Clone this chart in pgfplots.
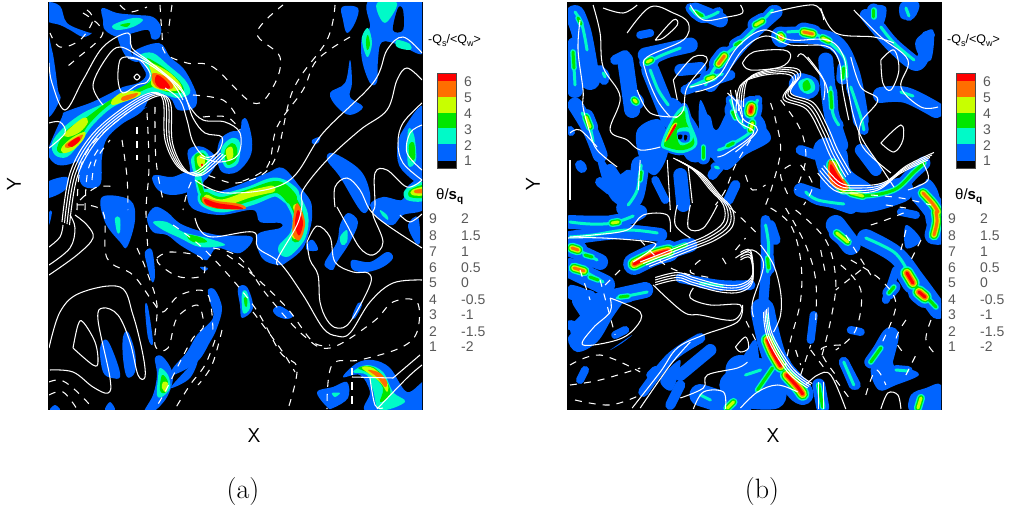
\documentclass[border=0pt]{standalone}
\usepackage{fontspec}
\usepackage{pgfplots}
\pgfplotsset{compat=1.18}
\newfontfamily\lgfont{Liberation Sans}
\definecolor{qb}{RGB}{0,100,255}
\definecolor{qc}{RGB}{0,250,200}
\definecolor{qg}{RGB}{0,230,0}
\definecolor{qy}{RGB}{200,255,0}
\definecolor{qo}{RGB}{255,110,0}
\definecolor{qr}{RGB}{255,0,0}
\newcommand\bl[2]{\addplot[forget plot,draw=none,fill=#1,smooth cycle,tension=.6] coordinates {#2};}
\newcommand\wl[2][]{\addplot[forget plot,draw=white,line width=1.05pt,smooth,tension=.6,#1] coordinates {#2};}
\newcommand\ds[1]{\addplot[forget plot,draw=white,line width=1.05pt,smooth,tension=.6,dash pattern=on 7pt off 7pt] coordinates {#1};}
\newcommand\bun[3]{\wl{#3}\wl[xshift=#1,yshift=#2]{#3}\wl[xshift=2*#1,yshift=2*#2]{#3}\wl[xshift=3*#1,yshift=3*#2]{#3}}
\newcommand\bw[2]{\addplot[forget plot,draw=qb,line width=#1pt,smooth,tension=.6,line cap=round,line join=round] coordinates {#2};}
\newcommand\cl[3]{\addplot[forget plot,draw=#1,line width=#2pt,smooth,tension=.6,line cap=round,line join=round] coordinates {#3};}
\newcommand\lc[1]{\ifcase#1\or qb\or qc\or qg\or qy\or qo\or qr\fi}
\newcommand\lev[2]{\ifnum#1<\pass\else
  \ifnum\pass=1 \pgfmathsetmacro\wv{3.0*(#1-1)+7}\else\pgfmathsetmacro\wv{2.6*(#1-\pass)+3}\fi
  \edef\tmp{\noexpand\addplot[forget plot,draw=\lc{\pass},line width=\wv pt,smooth,tension=.6,line cap=round,line join=round] coordinates {\unexpanded{#2}};}\tmp\fi}
\pgfplotsset{panel/.style={width=373pt,height=406pt,scale only axis,y dir=reverse,ymin=3,ymax=409,xtick=\empty,ytick=\empty,
  axis background/.style={fill=black},axis line style={line width=1.6pt,black},
  xlabel={\sffamily\fontsize{20}{22}\selectfont X},ylabel={\sffamily\fontsize{20}{22}\selectfont Y},
  every axis x label/.style={at={(axis description cs:0.55,-0.0665)},anchor=center},
  every axis y label/.style={at={(axis description cs:-0.094,0.554)},anchor=center,rotate=90}}}
\newcommand\rstreaks{%
\lev{2}{(575,12) (582,25) (587,50)}
\lev{3}{(578,18) (581,24)}
\lev{3}{(573,52) (574,68)}
\lev{2}{(574,68) (575,85)}
\lev{2}{(582,113) (590,128) (593,142)}
\lev{4}{(586,117) (590,127)}
\lev{4}{(634,100) (636,102)}
\lev{2}{(603,73) (605,77)}
\lev{2}{(646,64) (660,56) (680,48)}
\lev{4}{(647,62) (651,60)}
\lev{2}{(650,70) (658,90) (668,105)}
\lev{2}{(690,8) (702,18) (718,12)}
\lev{3}{(695,12) (702,16)}
\lev{2}{(705,85) (720,60) (745,38) (772,10)}
\lev{5}{(718,64) (724,56)}
\lev{4}{(755,25) (762,21)}
\lev{3}{(735,45) (740,42)}
\lev{2}{(690,87) (710,78) (722,74)}
\lev{4}{(707,79) (713,77)}
\lev{5}{(780,36) (781,38)}
\lev{2}{(787,32) (808,32) (825,40) (843,57) (846,77)}
\lev{5}{(803,32) (812,34)}
\lev{4}{(822,38) (828,41)}
\lev{3}{(843,68) (842,78)}
\lev{2}{(830,87) (832,113) (838,125)}
\lev{3}{(830,92) (831,108)}
\lev{2}{(850,87) (860,117) (863,130)}
\lev{2}{(730,100) (737,117) (745,128)}
\lev{3}{(732,112) (735,118)}
\lev{2}{(757,100) (752,115) (752,130) (730,145) (718,150)}
\lev{6}{(751,107) (750,112)}
\lev{4}{(752,123) (750,130)}
\lev{3}{(733,143) (727,146)}
\lev{3}{(703,147) (703,158)}
\lev{2}{(715,167) (718,168)}
\lev{2}{(641,165) (637,190) (628,205)}
\lev{3}{(641,172) (640,180)}
\lev{6}{(832,165) (836,178) (843,188)}
\lev{3}{(843,190) (860,196) (893,190) (913,172) (923,163)}
\lev{4}{(850,193) (862,196)}
\lev{2}{(805,192) (817,200) (843,204)}
\lev{5}{(922,193) (932,204) (937,212)}
\lev{5}{(935,212) (936,222) (933,235)}
\lev{3}{(873,10) (873,17)}
\lev{2}{(880,27) (893,43) (913,60)}
\lev{2}{(905,8) (908,16)}
\lev{2}{(900,92) (912,96)}
\lev{2}{(570,222) (590,224) (613,223) (633,216)}
\lev{4}{(612,223) (618,222)}
\lev{2}{(570,237) (593,235) (627,230) (657,233)}
\lev{5}{(572,248) (578,250)}
\lev{2}{(578,250) (597,260)}
\lev{3}{(585,255) (592,257)}
\lev{6}{(634,264) (653,255) (668,251)}
\lev{3}{(668,251) (685,245)}
\lev{5}{(574,268) (584,271)}
\lev{2}{(584,271) (603,282)}
\lev{3}{(590,277) (598,280)}
\lev{2}{(617,298) (647,292)}
\lev{3}{(620,297) (628,296)}
\lev{2}{(700,283) (722,286)}
\lev{2}{(765,225) (768,245) (767,272)}
\lev{3}{(767,258) (768,268)}
\lev{2}{(767,315) (768,330)}
\lev{6}{(767,340) (772,352) (780,366)}
\lev{6}{(786,375) (797,387) (802,394)}
\lev{3}{(772,368) (757,390)}
\lev{2}{(745,375) (760,370)}
\lev{4}{(836,233) (847,242)}
\lev{2}{(865,238) (893,252) (905,268)}
\lev{6}{(906,273) (912,283)}
\lev{6}{(918,292) (924,297)}
\lev{3}{(912,283) (935,307)}
\lev{3}{(888,293) (893,287)}
\lev{3}{(870,362) (880,348)}
\lev{2}{(895,370) (907,371)}
\lev{4}{(733,402) (727,408)}
\lev{2}{(700,395) (710,400)}
\lev{3}{(818,385) (822,407)}
\lev{2}{(843,362) (853,385)}
\lev{4}{(920,398) (917,408)}
}
\begin{document}
\begin{tikzpicture}[x=1pt,y=1pt]
\useasboundingbox (0,0) rectangle (1011pt,513pt);
% ------------- panel a
\begin{axis}[panel,at={(49pt,104pt)},anchor=south west,xmin=49,xmax=422]
% blue
\bl{qb}{(49,147) (62,117) (65,112) (90,103) (107,95) (123,87) (138,83) (146,75) (140,63) (133,52) (159,43) (170,57) (183,68) (192,83) (197,97) (194,108) (178,110) (170,98) (152,95) (140,113) (107,132) (90,152) (73,163) (58,165) (49,157)}
\bl{qb}{(147,107) (130,118) (108,137) (102,157) (100,185) (82,185) (78,160) (90,147) (110,127)}
\bl{qb}{(102,8) (117,13) (137,15) (153,17) (161,27) (159,38) (152,39) (148,30) (133,33) (118,37) (105,30) (103,20)}
\bl{qb}{(117,33) (130,33) (132,55) (142,55) (137,62) (125,55)}
\bl{qb}{(46,3) (60,6) (67,23) (87,32) (92,33) (83,37) (70,30) (60,25) (46,20)}
\bl{qb}{(46,33) (52,50) (55,67) (58,90) (60,100) (46,114)}
\bl{qb}{(46,183) (67,177) (65,190) (46,198)}
\bl{qb}{(188,150) (203,147) (217,160) (208,177) (203,183) (210,193) (233,187) (267,173) (283,168) (300,187) (310,200) (312,210) (311,225) (303,248) (287,262) (278,265) (262,258) (257,235) (280,228) (280,223) (260,222) (253,210) (220,215) (192,208) (187,190) (190,170)}
\bl{qb}{(152,178) (157,175) (172,177) (190,172) (190,190) (172,195) (158,190)}
\bl{qb}{(220,140) (230,132) (240,130) (242,120) (247,120) (252,140) (250,157) (237,172) (222,172) (217,157)}
\bl{qb}{(342,7) (358,8) (355,23) (347,33) (343,20)}
\bl{qb}{(362,37) (370,27) (370,0) (425,0) (425,52) (400,45) (382,42) (378,60) (377,82) (370,83) (362,60)}
\bl{black}{(393,30) (398,8) (403,10) (403,30)}
\bl{qb}{(330,93) (345,83) (350,60) (352,83) (350,97) (363,107) (350,115) (337,107)}
\bl{qb}{(312,140) (320,137) (318,143) (313,144)}
\bl{qb}{(327,160) (333,153) (360,170) (370,193) (368,210) (360,210) (340,177)}
\bl{qb}{(425,107) (403,130) (397,150) (402,170) (425,180)}
\bl{qb}{(425,177) (407,187) (402,200) (383,197) (370,205) (380,220) (393,225) (403,215) (425,208)}
\bl{qb}{(408,225) (418,217) (420,242) (415,242)}
\bl{qb}{(102,197) (130,200) (135,220) (127,247) (120,242) (105,222)}
\bl{qb}{(147,218) (155,207) (167,212) (183,225) (217,235) (252,237) (240,253) (217,248) (207,260) (197,255) (180,245) (167,235) (153,232)}
\bl{qb}{(145,252) (152,250) (155,275) (152,282) (147,265)}
\bl{qb}{(200,267) (208,268) (205,271)}
\bl{qb}{(238,288) (247,287) (253,308) (242,318) (240,305)}
\bl{qb}{(273,310) (280,306) (293,315) (287,319) (277,316)}
\bl{qb}{(145,307) (148,307) (153,343) (148,338)}
\bl{qb}{(208,290) (215,290) (222,308) (217,328) (210,342) (197,362) (173,375) (173,368) (187,352) (197,335) (213,318) (210,302)}
\bl{qb}{(175,382) (197,360) (190,378) (172,388)}
\bl{qb}{(155,358) (163,357) (173,375) (167,397) (153,412) (144,412) (153,395) (157,375)}
\bl{qb}{(100,348) (107,340) (117,362) (120,377) (112,378) (103,372)}
\bl{qb}{(123,337) (128,332) (135,352) (135,372) (127,377) (123,358)}
\bl{qb}{(50,410) (55,405) (60,410)}
\bl{qb}{(105,410) (110,402) (115,410)}
\bl{qb}{(343,377) (357,363) (373,360) (390,368) (407,392) (425,382) (425,412) (367,412) (370,392) (360,375)}
\bl{qb}{(317,392) (333,387) (347,382) (348,398) (333,408) (327,407)}
\bl{qb}{(325,262) (337,242) (340,225) (348,213) (358,222) (350,242) (337,262) (333,270) (327,268)}
\bl{qb}{(352,260) (370,262) (387,252) (393,258) (383,267) (367,272) (353,270)}
\bl{qb}{(307,243) (313,240) (318,250) (307,250)}
\bl{qb}{(352,317) (358,303) (362,305) (355,318)}
\bl{qb}{(49,212) (52,212) (49,225)}
% cyan
\bl{qc}{(140,55) (153,53) (168,65) (185,80) (190,93) (177,98) (155,92) (137,97) (113,107) (93,125) (80,143) (67,157) (55,155) (52,143) (63,128) (83,113) (107,102) (125,92) (142,88) (150,78) (145,63)}
\cl{qc}{7}{(198,178) (201,192)}
\cl{qc}{19}{(207,198) (222,203) (250,196) (275,187) (290,195)}
\cl{qc}{16}{(290,195) (300,215) (298,235) (286,249)}
\bl{qc}{(192,157) (203,150) (210,160) (205,173) (197,177) (192,167)}
\bl{qc}{(222,147) (232,138) (240,143) (238,163) (227,168) (222,160)}
\bl{qc}{(113,25) (133,18) (143,20) (133,27) (117,30)}
\bl{qc}{(377,3) (397,3) (387,22) (380,18)}
\bl{qc}{(397,40) (410,44) (410,50) (397,47)}
\bl{qc}{(362,37) (368,28) (372,43) (368,57) (364,50)}
\bl{qc}{(408,130) (414,135) (416,160) (408,165)}
\bl{qc}{(405,190) (425,182) (425,200) (407,200)}
\bl{qc}{(115,218) (120,218) (120,232) (117,232)}
\bl{qc}{(153,222) (167,222) (183,232) (207,238) (225,245) (200,247) (180,238) (163,230)}
\bl{qc}{(242,293) (247,292) (250,308) (243,313)}
\bl{qc}{(160,368) (168,375) (170,388) (162,397) (157,395) (158,378)}
\bl{qc}{(353,372) (367,365) (383,372) (393,392) (405,402) (380,410) (373,390) (367,375)}
\bl{qc}{(340,237) (347,230) (347,242) (342,245)}
\bl{qc}{(380,210) (387,215) (388,220) (382,215)}
\bl{qc}{(332,393) (340,393) (335,397)}
% green
\bl{qg}{(147,58) (163,67) (180,82) (183,92) (167,92) (153,87) (133,95) (112,103) (90,123) (77,143) (63,153) (57,148) (67,130) (87,117) (112,99) (135,90) (152,80) (155,68)}
\cl{qg}{4}{(199,182) (202,192)}
\cl{qg}{12}{(206,198) (222,203) (250,195) (277,187) (291,198)}
\cl{qg}{9}{(291,198) (299,216) (296,238)}
\bl{qg}{(195,155) (203,153) (207,160) (203,172) (197,172) (195,165)}
\bl{qg}{(225,150) (232,143) (237,148) (236,160) (228,165) (225,158)}
\bl{qg}{(120,25) (130,23) (127,27)}
\bl{qg}{(366,40) (368,35) (370,45) (367,50)}
\bl{qg}{(409,145) (414,143) (415,158) (410,160)}
\bl{qg}{(410,190) (425,185) (425,197) (410,197)}
\bl{qg}{(187,235) (200,237) (207,242) (193,242)}
\bl{qg}{(244,298) (247,298) (247,306) (245,306)}
\bl{qg}{(162,375) (168,382) (165,393) (160,390)}
\bl{qg}{(358,368) (373,367) (387,382) (390,395) (380,402) (383,388) (372,375)}
% yellow
\bl{qy}{(150,63) (170,73) (182,88) (167,91) (152,86) (152,75)}
\bl{qy}{(112,100) (123,92) (140,92) (137,97) (120,103) (112,105)}
\bl{qy}{(65,133) (83,118) (88,122) (80,132) (68,137)}
\bl{qy}{(62,147) (73,137) (85,132) (83,140) (73,150) (63,153)}
\cl{qy}{7}{(207,198) (222,203) (250,194) (272,189)}
\cl{qy}{6}{(296,207) (299,222) (295,236)}
\bl{qy}{(197,157) (203,155) (205,162) (202,168) (198,165)}
\bl{qy}{(226,150) (232,147) (233,157) (228,160)}
\bl{qy}{(163,382) (168,383) (166,392) (162,388)}
\bl{qy}{(362,368) (373,368) (387,382) (387,392) (380,382)}
\bl{qy}{(412,190) (425,187) (425,195) (412,195)}
% orange
\bl{qo}{(153,73) (168,78) (173,88) (160,89) (153,83)}
\bl{qo}{(122,97) (137,93) (135,97) (123,101)}
\bl{qo}{(65,145) (77,137) (83,135) (78,143) (68,148)}
\bl{qo}{(203,197) (217,201) (240,204) (245,209) (222,209) (205,205)}
\bl{qo}{(297,203) (305,222) (300,240) (293,235) (293,220)}
\bl{qo}{(368,370) (380,373) (387,382) (385,387) (377,377)}
\bl{qo}{(415,190) (425,189) (425,193) (415,193)}
% red
\bl{qr}{(157,75) (165,80) (170,88) (160,88) (155,82)}
\bl{qr}{(68,144) (78,137) (80,140) (72,147)}
\bl{qr}{(205,199) (217,203) (237,206) (243,209) (230,209) (217,208) (206,204)}
\bl{qr}{(298,210) (303,222) (300,235) (297,233) (295,222)}
\bl{qr}{(201,164) (203,164) (202,167)}
% white solid
\wl{(195,218) (200,230) (213,237) (253,232) (258,248) (280,263) (303,295) (323,328) (337,336) (350,333) (370,302) (393,283) (422,280)}
\wl{(307,242) (317,226) (330,237) (335,262) (353,272) (368,273) (370,285) (350,322) (337,328) (327,320) (320,302) (318,275) (310,260) (307,242)}
\wl{(278,265) (278,258) (297,225) (302,205) (303,190) (327,160) (360,130) (387,110) (397,80) (407,68) (422,80)}
\wl{(195,180) (227,193) (287,182) (323,133) (373,83) (387,50) (403,37) (422,53)}
\wl{(337,207) (347,225) (360,248) (373,255) (383,242) (373,215) (375,205) (375,173) (387,170) (407,187) (422,180)}
\wl{(335,207) (335,187) (347,178) (360,190) (370,210) (387,225) (422,248)}
\wl{(422,103) (403,123) (398,143) (403,163) (422,180)}
\wl{(422,125) (410,133) (407,153) (422,170)}
\wl{(49,63) (52,83) (65,110) (83,80) (103,47) (128,33) (132,48) (150,62) (180,87) (190,107) (203,120) (225,122) (240,133) (238,155) (220,162) (200,157)}
\wl{(49,123) (60,122) (65,133) (49,148)}
\wl{(103,105) (93,85) (107,57) (120,47) (140,57) (160,70) (183,93) (193,118) (205,133) (222,137) (218,152) (205,157) (193,142) (187,120) (180,100) (165,88)}
\wl{(128,57) (120,60) (118,80) (123,93) (137,85) (147,82) (150,73) (140,60) (128,57)}
\wl{(137,74) (140,77) (137,80) (134,77) (137,74)}
\wl{(128,58) (145,62) (170,80) (183,100)}
\bun{2.5pt}{-1pt}{(62,222) (70,173) (90,137) (120,110) (150,93) (163,100) (165,140) (178,167) (195,172) (218,152)}
\wl{(49,247) (60,237) (63,225)}
\wl{(49,265) (70,248) (75,228) (70,215)}
\wl{(49,275) (77,255) (93,238) (87,225) (75,215)}
\wl{(49,348) (60,312) (80,293) (120,287) (133,315) (143,355) (145,377) (138,375) (130,342) (118,315) (103,308) (98,320) (110,378) (108,393) (93,387) (73,372) (50,370)}
\wl{(73,348) (78,325) (83,322) (95,342) (98,362) (93,365) (73,348)}
\wl{(377,409) (407,378) (422,365)}
\wl{(393,378) (420,355)}
\wl{(370,378) (375,405) (383,408)}
\wl{(352,377) (393,378)}
\wl{(400,215) (410,222) (422,214)}
% dashed
\ds{(160,5) (162,33) (165,53) (187,63) (213,67) (253,103) (273,87) (280,57) (257,33) (283,5)}
\ds{(172,5) (168,33)}
\ds{(335,5) (327,40) (293,90) (273,163) (237,183) (197,175) (183,210)}
\ds{(350,37) (317,60) (303,90) (277,127) (267,167) (237,183)}
\ds{(193,95) (223,100) (237,117)}
\ds{(203,117) (227,117) (240,130)}
\ds{(87,10) (93,20) (80,40) (60,47) (50,33)}
\ds{(83,13) (103,33) (75,60) (65,68)}
\ds{(120,5) (130,12) (147,7)}
\ds{(147,113) (149,167) (146,210) (148,250)}
\ds{(137,127) (137,160)}
\ds{(155,107) (156,160) (163,200)}
\ds{(122,140) (127,177) (128,210)}
\ds{(80,200) (97,187) (117,187)}
\ds{(77,210) (80,170) (93,143) (127,113)}
\ds{(85,210) (88,170) (100,147)}
\ds{(92,180) (96,160) (110,140)}
\ds{(77,205) (103,212) (107,258) (133,275) (153,302) (163,312) (180,295) (207,293) (213,332)}
\ds{(137,248) (147,272) (157,305) (155,345) (168,348) (177,318) (197,305) (203,318) (203,328) (193,338) (180,362) (165,392) (155,409)}
\ds{(157,258) (170,252) (200,257) (203,275) (180,277) (160,265) (157,258)}
\ds{(173,225) (207,252) (253,305) (280,352) (297,368) (288,409)}
\ds{(213,248) (240,258) (267,295) (303,335) (330,348) (373,322) (393,302) (417,302) (417,332) (400,348) (360,360) (332,365) (327,409)}
\ds{(227,255) (253,275) (287,308) (313,342) (330,345)}
\ds{(253,312) (280,348) (295,372)}
\ds{(352,368) (352,409)}
\ds{(49,382) (60,380) (73,388) (93,408)}
\ds{(49,395) (63,392) (77,409)}
\ds{(215,340) (205,365) (190,385) (175,409)}
\ds{(222,330) (212,365) (198,385)}
\end{axis}
% ------------- panel b
\begin{axis}[panel,at={(568pt,104pt)},anchor=south west,xmin=568,xmax=940]
\bw{20}{(575,15) (582,35) (590,80)}
\bw{16}{(575,45) (575,90)}
\bw{16}{(625,60) (632,110)}
\bw{15}{(645,55) (668,50) (690,45)}
\bw{18}{(650,70) (660,95) (670,120)}
\bw{25}{(670,110) (685,130) (695,150)}
\bw{15}{(695,10) (720,20)}
\bw{14}{(710,85) (740,45) (775,12)}
\bw{10}{(685,90) (730,75)}
\bw{22}{(735,110) (755,130) (720,150)}
\bw{12}{(705,120) (710,145)}
\bw{18}{(640,165) (635,195) (625,208)}
\bw{15}{(575,105) (590,130) (600,155)}
\bw{16}{(780,35) (830,40) (850,70) (860,120)}
\bw{15}{(825,60) (830,110) (840,145)}
\bw{24}{(800,85) (807,87)}
\bw{25}{(825,150) (835,180) (860,200) (900,190)}
\bw{14}{(800,190) (850,207)}
\bw{12}{(865,15) (890,45) (915,65) (925,50)}
\bw{16}{(880,95) (905,95) (935,110)}
\bw{20}{(920,195) (935,215) (937,235)}
\bw{14}{(570,222) (615,222) (640,212)}
\bw{14}{(570,238) (620,232) (660,235)}
\bw{16}{(570,248) (600,262)}
\bw{20}{(570,268) (605,285)}
\bw{16}{(600,300) (645,290)}
\bw{20}{(580,330) (600,310)}
\bw{10}{(570,325) (595,332)}
\bw{8}{(615,335) (625,330)}
\bw{10}{(680,278) (720,285) (750,285)}
\bw{14}{(640,262) (690,245)}
\bw{10}{(765,220) (765,270) (762,310)}
\bw{24}{(762,310) (775,360) (800,392)}
\bw{30}{(740,370) (770,375)}
\bw{22}{(730,385) (770,385)}
\bw{22}{(700,395) (740,408)}
\bw{10}{(680,385) (670,405)}
\bw{10}{(643,392) (670,358) (700,338)}
\bw{12}{(680,375) (710,350)}
\bw{20}{(835,225) (850,245)}
\bw{18}{(865,238) (895,255) (915,280) (937,310)}
\bw{8}{(895,270) (885,300)}
\bw{16}{(875,360) (890,335) (880,375)}
\bw{8}{(850,330) (860,332)}
\bw{8}{(813,315) (810,340)}
\bw{10}{(843,362) (855,385)}
\bw{14}{(920,400) (935,395)}
\bw{10}{(900,372) (905,372)}
\bw{10}{(600,70) (604,80)}
\bw{10}{(580,165) (582,168)}
\bw{8}{(570,130) (571,132)}
\bw{10}{(615,60) (625,55)}
\bw{8}{(640,35) (650,33)}
\bw{12}{(680,70) (700,68)}
\bw{12}{(860,150) (875,170)}
\bw{8}{(925,35) (930,35)}
\bw{10}{(800,150) (815,155)}
\bw{10}{(720,165) (712,175)}
\bw{8}{(655,180) (665,200)}
\bw{10}{(735,185) (728,200)}
\bw{14}{(680,175) (683,205)}
\bw{12}{(610,170) (620,185)}
\bw{10}{(600,182) (610,190)}
\bw{10}{(770,225) (775,240)}
\bw{8}{(585,370) (580,380)}
\bw{8}{(650,375) (655,370)}
\bw{8}{(900,212) (915,215)}
% irregular extra patches
\bl{qb}{(572,300) (590,290) (603,300) (625,296) (612,318) (597,342) (577,352) (568,338) (582,322)}
\bl{qb}{(610,350) (632,335) (622,343)}
\bl{qb}{(596,150) (615,175) (630,170) (640,195) (620,205) (606,190)}
\bl{qb}{(637,130) (660,120) (668,150) (655,175) (640,160)}
\bl{qb}{(700,100) (715,130) (728,112) (740,135) (712,158) (700,140)}
\bl{qb}{(710,150) (745,140) (760,125) (770,140) (745,155) (725,170)}
\bl{qb}{(740,360) (755,340) (762,370) (785,390) (778,408) (745,408) (725,400) (720,380)}
\bl{qb}{(828,150) (845,150) (850,170) (870,185) (880,200) (845,208) (820,190)}
\bl{qb}{(925,180) (938,195) (938,240) (925,222)}
\bl{qb}{(905,225) (920,240) (905,248)}
\bl{qb}{(885,345) (895,370) (905,368) (918,375) (895,385) (878,390) (870,368)}
\bl{qb}{(910,395) (925,388) (940,385) (940,412) (910,412)}
\bl{qb}{(870,7) (885,7) (882,25) (872,25)}
\bl{qb}{(900,3) (918,3) (913,18) (900,18)}
\bl{qb}{(915,40) (932,30) (930,60) (918,55)}
\bl{qb}{(570,285) (590,292) (580,300) (568,298)}
\bl{qb}{(660,380) (680,360) (672,390)}
\def\pass{1}\rstreaks
\def\pass{2}\rstreaks
\def\pass{3}\rstreaks
\bl{qb}{(660,143) (673,113) (685,103) (692,120) (699,145) (683,155) (667,152)}
\bl{qc}{(661,143) (674,115) (685,106) (690,122) (697,144) (683,153) (667,150)}
\bl{qg}{(664,143) (675,118) (684,111) (686,122) (694,143) (683,150) (669,148)}
\bl{qc}{(677,130) (690,128) (692,140) (680,145)}
\bl{qb}{(677,133) (688,132) (689,141) (681,142)}
\bl{black}{(678,135) (682,135) (681,139) (678,139)}
\bl{black}{(684,135) (687,136) (686,140) (684,140)}
\bl{qb}{(795,80) (807,75) (815,80) (817,93) (807,97) (798,93)}
\bl{qc}{(798,82) (807,78) (813,82) (814,90) (807,94) (800,90)}
\bl{qg}{(802,84) (807,80) (810,88) (804,91)}
\def\pass{4}\rstreaks
\def\pass{5}\rstreaks
\def\pass{6}\rstreaks
\bl{qo}{(829,160) (838,173) (848,188) (836,189) (828,178)}
\bl{qr}{(830,164) (837,175) (845,187) (836,186) (830,177)}
\bl{qy}{(672,125) (664,142) (669,137) (677,124)}
\bl{qr}{(674,125) (666,140) (668,139) (676,126)}
% white
\wl{(593,5) (600,33) (603,67) (620,97) (610,130) (627,140) (640,150) (660,147)}
\wl{(580,20) (578,50) (583,90) (583,107) (590,133) (597,150) (617,167)}
\wl{(627,33) (650,7) (673,13) (688,23) (683,40) (647,57) (645,70) (657,100) (670,117)}
\wl{(655,40) (673,20) (677,25) (663,38) (655,40)}
\wl{(603,8) (623,13) (637,5)}
\wl{(690,5) (703,20) (727,17) (742,13) (740,5)}
\wl{(673,80) (693,57) (707,60) (687,87) (683,110) (675,118)}
\wl{(690,87) (717,77) (737,47) (763,30) (790,40) (827,40) (843,57) (847,87) (853,117) (862,140) (880,167) (893,187)}
\wl{(695,92) (720,82) (742,50) (765,36) (790,45) (825,46) (838,60) (842,90) (848,120)}
\wl{(770,13) (813,5) (823,20)}
\wl{(853,10) (880,37) (907,60) (900,87) (920,107) (937,107)}
\wl{(820,8) (835,33) (873,37) (893,43)}
\wl{(880,60) (893,50) (898,70) (890,90) (882,83) (880,60)}
\wl{(880,143) (900,125) (902,140) (893,152) (880,143)}
\wl{(850,57) (860,87) (877,100) (860,123) (862,147) (890,173)}
\wl{(922,163) (927,180) (907,190)}
\wl{(570,133) (580,130) (597,147)}
\wl{(637,90) (650,113) (677,117)}
\wl{(727,93) (740,107) (742,123)}
\wl{(807,57) (823,80) (823,100)}
\wl{(640,160) (638,190)}
\wl{(673,80) (677,100)}
\bun{-2.5pt}{-2pt}{(743,107) (747,80) (767,70) (793,68) (800,75) (790,93) (813,103) (827,127) (837,150) (850,173)}
\wl{(730,90) (737,120) (753,133) (727,153) (717,157)}
\wl{(735,90) (742,118) (757,130) (735,152)}
\wl{(742,63) (753,52) (783,50) (790,57) (780,67) (750,70) (742,63)}
\wl{(797,57) (803,55) (823,80) (827,93)}
\bun{3pt}{-1.5pt}{(673,158) (693,170) (710,190) (723,205) (723,222) (707,235) (683,245) (640,262)}
\wl{(667,160) (670,210)}
\wl{(688,167) (692,203)}
\wl{(570,160) (570,200)}
\bun{2pt}{2.5pt}{(817,173) (833,190) (850,193) (877,190) (900,173) (927,160)}
\wl{(570,237) (593,235) (627,230) (643,215) (667,215) (670,232)}
\wl{(568,238) (603,238) (650,242) (653,248) (633,262)}
\wl{(677,205) (675,225) (690,238)}
\wl{(690,205) (688,228) (703,228) (717,205)}
\bun{0pt}{2.5pt}{(655,285) (677,280) (693,285) (720,292) (740,292) (752,282) (750,258) (740,260)}
\wl{(693,288) (690,298) (710,305) (740,305) (733,320) (700,315) (683,312) (653,285)}
\wl{(632,408) (660,372) (677,348) (703,335) (737,322) (742,305)}
\wl{(640,408) (670,365) (690,342)}
\wl{(610,298) (640,312) (635,328) (617,340) (583,345) (593,328) (610,312) (610,298)}
\wl{(760,245) (773,265) (780,292) (780,315) (773,332)}
\wl{(753,317) (752,302) (763,265) (752,250) (735,258)}
\bun{1.5pt}{1.5pt}{(763,312) (767,338) (787,372) (807,388)}
\wl{(805,385) (817,375) (830,375) (845,409)}
\wl{(818,382) (818,409)}
\wl{(823,382) (823,409)}
\wl{(680,398) (703,388) (707,375) (737,368) (747,362)}
\wl{(693,409) (703,392) (723,392) (725,409)}
\wl{(740,408) (757,392) (777,385) (797,392)}
\wl{(735,347) (745,337) (748,348) (740,352) (735,347)}
\wl{(880,409) (887,393) (897,395) (900,409)}
% dashed
\ds{(770,103) (775,120) (780,150) (772,185) (765,205)}
\ds{(780,100) (800,130) (805,160) (795,190)}
\ds{(750,140) (735,165) (725,190) (715,205)}
\ds{(800,165) (812,185) (803,205)}
\ds{(770,208) (790,225) (800,260) (800,300) (790,340) (785,365)}
\ds{(785,208) (805,245) (815,280) (815,320)}
\ds{(795,210) (825,240) (835,280) (830,320) (820,360)}
\ds{(840,265) (860,290) (855,330) (835,350)}
\ds{(850,260) (880,280) (895,305) (880,345)}
\ds{(905,320) (895,340) (905,355)}
\ds{(930,320) (925,340) (935,355)}
\ds{(795,350) (800,365)}
\ds{(810,350) (825,370)}
\ds{(840,345) (820,350) (835,375)}
\ds{(865,395) (875,370) (885,385)}
\ds{(730,208) (745,222) (755,232)}
\ds{(735,250) (745,238)}
\ds{(722,258) (728,268)}
\ds{(640,240) (665,265) (690,275)}
\ds{(700,260) (690,272) (712,278)}
\ds{(580,270) (590,300)}
\ds{(605,285) (620,270)}
\ds{(570,365) (600,355) (640,372)}
\ds{(570,385) (600,380) (640,368)}
\ds{(575,400) (610,405) (640,395)}
\ds{(870,195) (900,198) (930,205)}
\ds{(885,205) (905,208)}
\ds{(905,230) (900,250)}
\ds{(920,240) (910,260)}
\ds{(870,225) (885,220) (905,212)}
\ds{(600,280) (615,335)}
\ds{(860,270) (835,290)}
\ds{(745,175) (752,190) (765,185)}
\ds{(790,165) (780,175) (790,200)}
\ds{(820,250) (825,275)}
\ds{(845,235) (870,275)}
\ds{(755,340) (745,320)}
\ds{(800,375) (810,345)}
\ds{(835,380) (850,400)}
\ds{(905,375) (915,355)}
\end{axis}
% -------- legends and captions (y grows downward in pixels)
\begin{scope}[yshift=513pt,y=-1pt,x=1pt]
\foreach \dx in {0,519}{
\begin{scope}[xshift=\dx pt,font=\lgfont\fontsize{14}{16}\selectfont]
 \node[anchor=west,inner sep=0pt,text=black] at (428,41) {\fontsize{12.5}{14}\selectfont -Q\raisebox{-3pt}{\fontsize{9}{9}\selectfont s}/<Q\raisebox{-3pt}{\fontsize{9}{9}\selectfont w}>};
 \fill[qr] (437,73) rectangle (456,81);
 \fill[qo] (437,81) rectangle (456,96.7);
 \fill[qy] (437,96.7) rectangle (456,112.7);
 \fill[qg] (437,112.7) rectangle (456,128.3);
 \fill[qc] (437,128.3) rectangle (456,144.3);
 \fill[qb] (437,144.3) rectangle (456,160.7);
 \fill[black] (437,160.7) rectangle (456,168);
 \draw[black!70,line width=.6pt] (437,73) rectangle (456,168);
 \foreach \yy/\tt in {82/6,98/5,114/4,130/3,146/2,161/1}{\node[anchor=west,inner sep=0pt,text=black!65] at (464,\yy) {\tt};}
 \node[anchor=west,inner sep=0pt,text=black] at (436,197) {\fontsize{15}{16}\selectfont θ/\textbf{s}\raisebox{-3pt}{\fontsize{10}{10}\selectfont\textbf{q}}};
 \foreach \yy/\aa/\bb in {219/9/2,236/8/1.5,252/7/1,268/6/0.5,283/5/0,300/4/-0.5,315/3/-1,332/2/-1.5,347/1/-2}{
   \node[anchor=west,inner sep=0pt,text=black!65] at (429,\yy) {\aa};
   \node[anchor=west,inner sep=0pt,text=black!65] at (461,\yy) {\bb};}
\end{scope}}
\node[font=\fontsize{28}{30}\selectfont] at (243,492) {(a)};
\node[font=\fontsize{28}{30}\selectfont] at (762,492) {(b)};
\end{scope}
\end{tikzpicture}
\end{document}
